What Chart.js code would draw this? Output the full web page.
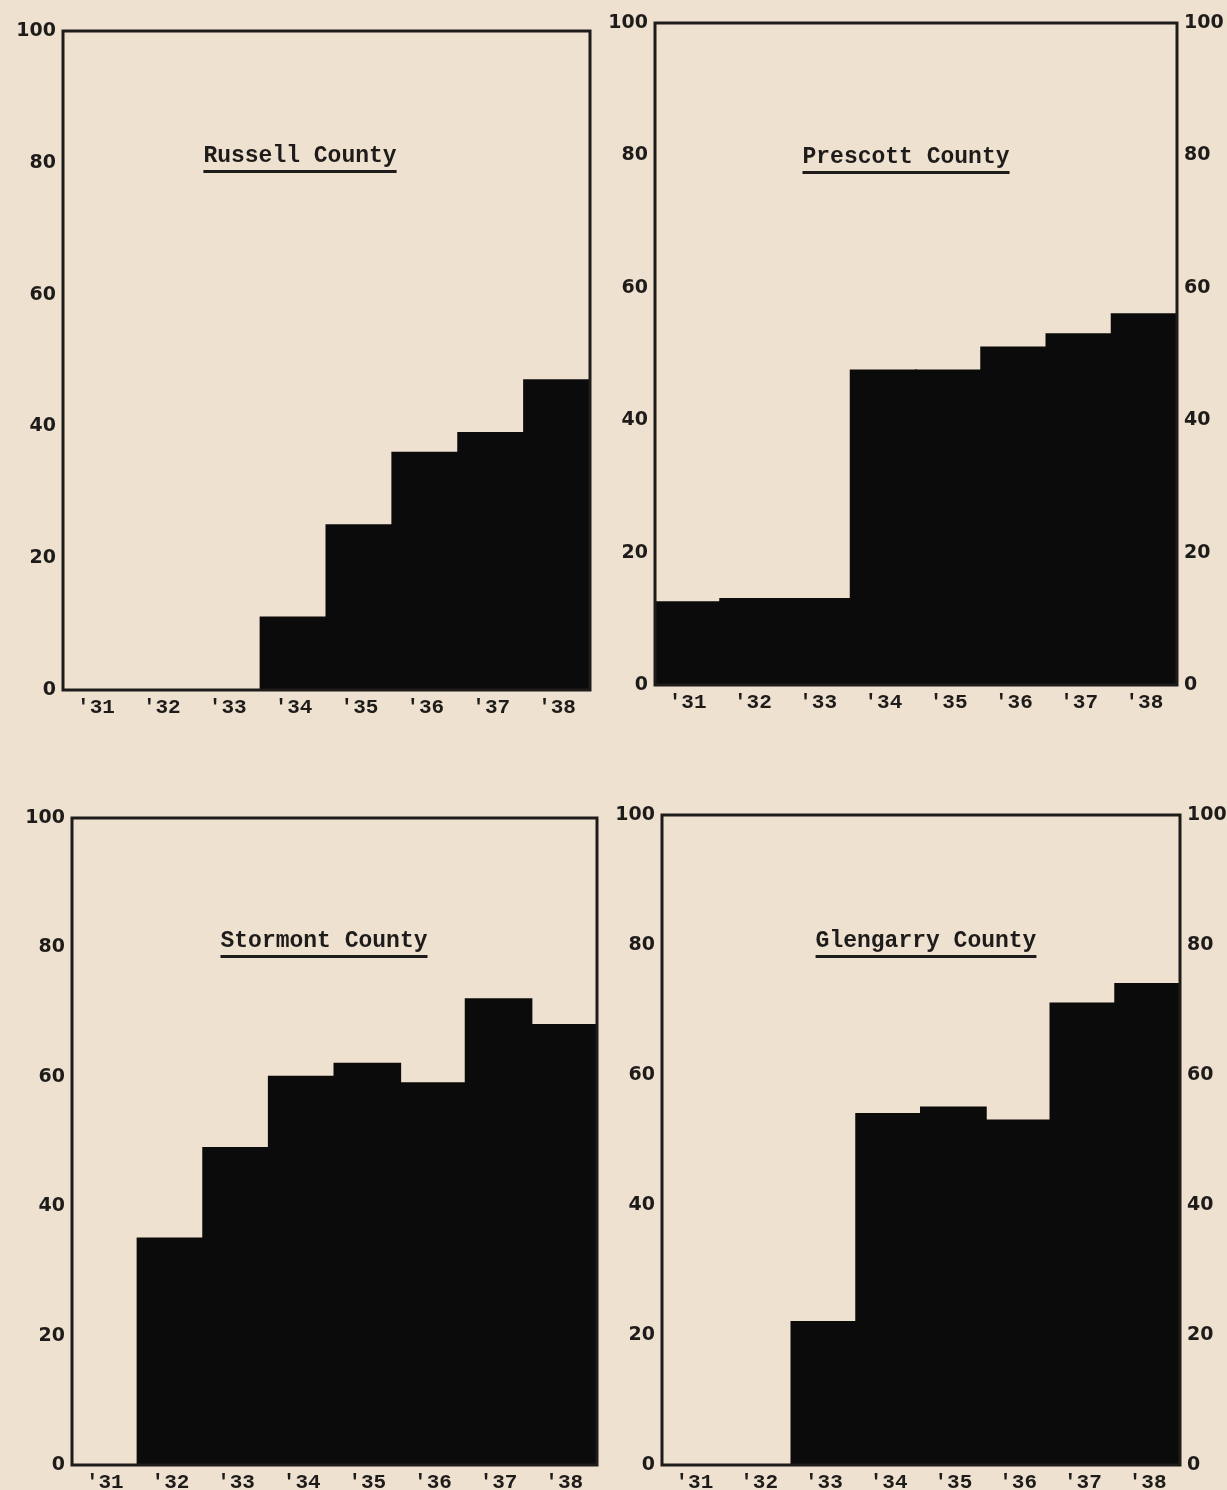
<!DOCTYPE html>
<html>
<head>
<meta charset="utf-8">
<script src="https://cdn.jsdelivr.net/npm/chart.js@4.4.1/dist/chart.umd.min.js"></script>
<style>
  body { margin: 0; background: #efe1cf; }
  #page { position: relative; width: 1227px; height: 1490px; overflow: hidden; background: #efe1cf; }
  canvas { position: absolute; }
  .ttl {
    position: absolute;
    transform: translateX(-50%);
    white-space: nowrap;
    font-family: "Liberation Mono", monospace;
    font-weight: bold;
    font-size: 23px;
    line-height: 23px;
    color: #1e1c1a;
    text-decoration: underline;
    text-decoration-thickness: 3px;
    text-underline-offset: 8px;
  }
</style>
</head>
<body>
<div id="page">
  <canvas id="russell" width="620" height="740"></canvas>
  <canvas id="prescott" width="637" height="740"></canvas>
  <canvas id="stormont" width="620" height="720"></canvas>
  <canvas id="glengarry" width="637" height="720"></canvas>
  <div class="ttl" style="left:300px;top:145px">Russell County</div>
  <div class="ttl" style="left:906px;top:146px">Prescott County</div>
  <div class="ttl" style="left:324px;top:930px">Stormont County</div>
  <div class="ttl" style="left:926px;top:930px">Glengarry County</div>
</div>
<script>
// years along the bottom of every panel
var years = ["'31", "'32", "'33", "'34", "'35", "'36", "'37", "'38"];
var yTicks = [0, 20, 40, 60, 80, 100];

// per cent of children protected
var russell   = [0, 0, 0, 11, 25, 36, 39, 47];
var prescott  = [12.5, 13, 13, 47.5, 47.5, 51, 53, 56];
var stormont  = [0, 35, 49, 60, 62, 59, 72, 68];
var glengarry = [0, 0, 22, 54, 55, 53, 71, 74];

var ink = '#1e1c1a';

// thick frame round the plot area
var framePlugin = {
  id: 'frame',
  afterDatasetsDraw: function(chart) {
    var a = chart.chartArea, c = chart.ctx;
    c.save();
    c.strokeStyle = ink;
    c.lineWidth = 3;
    c.strokeRect(a.left, a.top, a.right - a.left, a.bottom - a.top);
    c.restore();
  }
};

function panel(id, values, box, area, rightAxis) {
  var yw = area.l - box.x;
  var padTop = area.t - box.y;
  var xh = box.y + box.h - area.b;
  var rw = box.x + box.w - area.r;

  var yAxis = function(pos) {
    return {
      position: pos,
      min: 0,
      max: 100,
      grid: { display: false, drawTicks: false },
      border: { display: false },
      afterBuildTicks: function(s) { s.ticks = yTicks.map(function(v) { return { value: v }; }); },
      afterFit: function(s) { s.width = pos === 'left' ? yw : rw; },
      ticks: {
        color: ink,
        padding: 7,
        font: { family: 'DejaVu Sans', weight: 'bold', size: 19 }
      }
    };
  };

  var scales = {
    x: {
      grid: { display: false, drawTicks: false },
      border: { display: false },
      afterFit: function(s) { s.height = xh; },
      ticks: {
        color: ink,
        padding: 5,
        maxRotation: 0,
        autoSkip: false,
        font: { family: 'Liberation Mono', weight: 'bold', size: 21 }
      }
    },
    y: yAxis('left')
  };
  if (rightAxis) scales.y2 = yAxis('right');

  var cv = document.getElementById(id);
  cv.style.left = box.x + 'px';
  cv.style.top = box.y + 'px';

  new Chart(cv, {
    type: 'bar',
    data: {
      labels: years,
      datasets: [{
        data: values,
        backgroundColor: '#0c0b0b',
        borderWidth: 0,
        inflateAmount: 1,
        barPercentage: 1,
        categoryPercentage: 1
      }]
    },
    options: {
      responsive: false,
      animation: false,
      layout: { padding: { top: padTop, right: rightAxis ? 0 : rw, left: 0, bottom: 0 } },
      plugins: { legend: { display: false }, tooltip: { enabled: false } },
      scales: scales
    },
    plugins: [framePlugin]
  });
}

panel('russell', russell,
  { x: 0, y: 0, w: 620, h: 740 }, { l: 63, t: 31, r: 590, b: 690 }, false);
panel('prescott', prescott,
  { x: 590, y: 0, w: 637, h: 740 }, { l: 655, t: 23, r: 1177, b: 685 }, true);
panel('stormont', stormont,
  { x: 0, y: 770, w: 620, h: 720 }, { l: 72, t: 818, r: 597, b: 1465 }, false);
panel('glengarry', glengarry,
  { x: 590, y: 770, w: 637, h: 720 }, { l: 662, t: 815, r: 1180, b: 1465 }, true);
</script>
</body>
</html>
